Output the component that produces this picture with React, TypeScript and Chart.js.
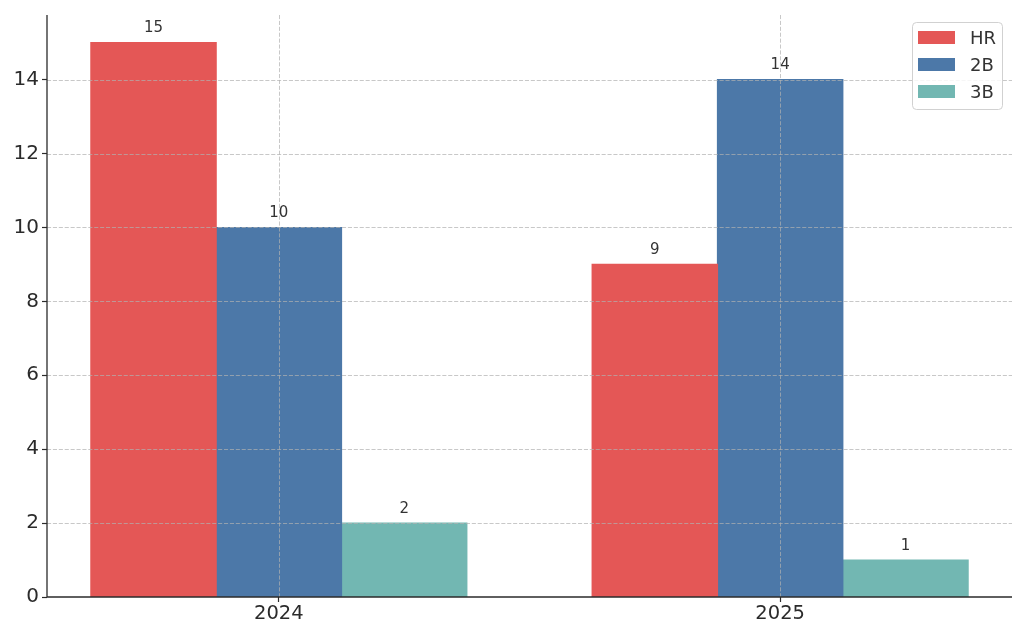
import React, { useEffect, useRef } from "react";
import { Chart, registerables } from "chart.js";

Chart.register(...registerables);

const categories = ["2024", "2025"];
const seriesLabels = ["HR", "2B", "3B"];
const hrValues = [15, 9];
const doubleValues = [10, 14];
const tripleValues = [2, 1];
const seriesColors = ["#E45756", "#4C78A8", "#72B7B2"];
const yTickValues = [0, 2, 4, 6, 8, 10, 12, 14];

const FONT = "'DejaVu Sans', 'Liberation Sans', sans-serif";
const TEXT = "#2b2b2b";

const overlayPlugin = {
  id: "overlay",
  afterDatasetsDraw(chart: any) {
    const { ctx, chartArea, scales } = chart;
    const xs = scales.x;
    const ys = scales.y;
    ctx.save();
    // dashed grid drawn above bars
    ctx.strokeStyle = "rgba(176,176,176,0.7)";
    ctx.lineWidth = 1;
    ctx.setLineDash([4.1, 1.8]);
    yTickValues.forEach((v) => {
      if (v === 0) return;
      const y = Math.round(ys.getPixelForValue(v)) + 0.5;
      ctx.beginPath();
      ctx.moveTo(chartArea.left, y);
      ctx.lineTo(chartArea.right, y);
      ctx.stroke();
    });
    categories.forEach((_, i) => {
      const x = Math.round(xs.getPixelForValue(i)) + 0.5;
      ctx.beginPath();
      ctx.moveTo(x, chartArea.top);
      ctx.lineTo(x, chartArea.bottom);
      ctx.stroke();
    });
    ctx.setLineDash([]);
    // spines
    ctx.strokeStyle = TEXT;
    ctx.lineWidth = 1.3;
    ctx.beginPath();
    ctx.moveTo(chartArea.left, chartArea.top);
    ctx.lineTo(chartArea.left, chartArea.bottom);
    ctx.lineTo(chartArea.right, chartArea.bottom);
    ctx.stroke();
    // value labels
    ctx.fillStyle = "#333333";
    ctx.font = `15px ${FONT}`;
    ctx.textAlign = "center";
    ctx.textBaseline = "alphabetic";
    chart.data.datasets.forEach((ds: any, di: number) => {
      const meta = chart.getDatasetMeta(di);
      meta.data.forEach((el: any, j: number) => {
        const v = ds.data[j].y;
        ctx.fillText(String(v), el.x, el.y - 10.5);
      });
    });
    // legend
    const lx = 912;
    const ly = 22;
    const lw = 90;
    const lh = 87;
    ctx.beginPath();
    ctx.roundRect(lx + 0.5, ly + 0.5, lw, lh, 4);
    ctx.fillStyle = "rgba(255,255,255,0.85)";
    ctx.fill();
    ctx.strokeStyle = "rgba(204,204,204,0.9)";
    ctx.lineWidth = 1;
    ctx.stroke();
    ctx.font = `18px ${FONT}`;
    ctx.textAlign = "left";
    chart.data.datasets.forEach((ds: any, i: number) => {
      const py = ly + 9 + i * 27;
      ctx.fillStyle = ds.backgroundColor;
      ctx.fillRect(lx + 6, py, 37, 13);
      ctx.fillStyle = "#333333";
      ctx.fillText(ds.label, lx + 58, py + 13);
    });
    ctx.restore();
  },
};

export default function App() {
  const canvasRef = useRef<HTMLCanvasElement | null>(null);

  useEffect(() => {
    document.body.style.margin = "0";
    const canvas = canvasRef.current;
    if (!canvas) return;
    const seriesValues = [hrValues, doubleValues, tripleValues];
    const chart = new Chart(canvas, {
      type: "bar",
      data: {
        datasets: seriesLabels.map((label, i) => ({
          label,
          data: seriesValues[i].map((v, j) => ({ x: j, y: v })),
          backgroundColor: seriesColors[i],
          borderWidth: 0,
          inflateAmount: 0.6,
          categoryPercentage: 0.75,
          barPercentage: 1,
        })),
      },
      options: {
        animation: false,
        responsive: false,
        devicePixelRatio: 1,
        layout: { padding: { top: 14, right: 12, left: 0, bottom: 0 } },
        plugins: {
          legend: { display: false },
          tooltip: { enabled: false },
          title: { display: false },
        },
        scales: {
          x: {
            type: "linear",
            min: -0.4625,
            max: 1.4625,
            offset: false,
            afterBuildTicks: (scale: any) => {
              scale.ticks = categories.map((_, i) => ({ value: i }));
            },
            afterFit: (scale: any) => {
              scale.height = 38;
            },
            border: { display: false },
            grid: {
              offset: false,
              drawOnChartArea: false,
              drawTicks: true,
              tickLength: 5,
              tickColor: TEXT,
              tickWidth: 1.2,
            },
            ticks: {
              autoSkip: false,
              maxRotation: 0,
              padding: 0,
              color: TEXT,
              font: { family: FONT, size: 19.5 },
              callback: (v: any) => categories[Math.round(Number(v))] ?? "",
            },
          },
          y: {
            type: "linear",
            min: 0,
            max: 15.75,
            afterBuildTicks: (scale: any) => {
              scale.ticks = yTickValues.map((v) => ({ value: v }));
            },
            afterFit: (scale: any) => {
              scale.width = 47;
            },
            border: { display: false },
            grid: {
              drawOnChartArea: false,
              drawTicks: true,
              tickLength: 5,
              tickColor: TEXT,
              tickWidth: 1.2,
            },
            ticks: {
              padding: 3,
              color: TEXT,
              font: { family: FONT, size: 20 },
            },
          },
        },
      },
      plugins: [overlayPlugin],
    } as any);
    return () => chart.destroy();
  }, []);

  return (
    <div style={{ width: 1024, height: 635, position: "relative" }}>
      <canvas ref={canvasRef} width={1024} height={635} style={{ display: "block" }} />
    </div>
  );
}
